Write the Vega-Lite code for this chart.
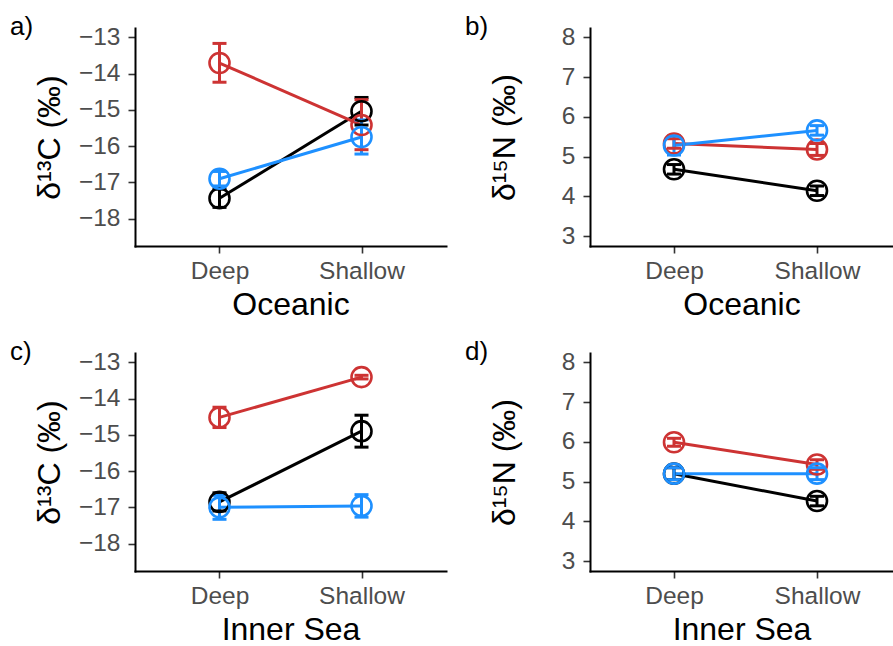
{
  "$schema": "https://vega.github.io/schema/vega-lite/v6.json",
  "padding": {"left": 10, "top": 14, "right": 0, "bottom": 0},
  "background": "white",
  "data": {"values": [
    {"panel": "a", "series": "s1", "depth": "Deep", "mean": -17.44, "lo": -17.69, "hi": -17.19},
    {"panel": "a", "series": "s1", "depth": "Shallow", "mean": -15.04, "lo": -15.42, "hi": -14.66},
    {"panel": "a", "series": "s2", "depth": "Deep", "mean": -13.71, "lo": -14.24, "hi": -13.17},
    {"panel": "a", "series": "s2", "depth": "Shallow", "mean": -15.42, "lo": -16.1, "hi": -14.72},
    {"panel": "a", "series": "s3", "depth": "Deep", "mean": -16.9, "lo": -17.1, "hi": -16.7},
    {"panel": "a", "series": "s3", "depth": "Shallow", "mean": -15.75, "lo": -16.22, "hi": -15.28},
    {"panel": "b", "series": "s1", "depth": "Deep", "mean": 4.68, "lo": 4.56, "hi": 4.8},
    {"panel": "b", "series": "s1", "depth": "Shallow", "mean": 4.14, "lo": 4.02, "hi": 4.26},
    {"panel": "b", "series": "s2", "depth": "Deep", "mean": 5.33, "lo": 5.21, "hi": 5.45},
    {"panel": "b", "series": "s2", "depth": "Shallow", "mean": 5.18, "lo": 5.03, "hi": 5.33},
    {"panel": "b", "series": "s3", "depth": "Deep", "mean": 5.28, "lo": 5.04, "hi": 5.52},
    {"panel": "b", "series": "s3", "depth": "Shallow", "mean": 5.66, "lo": 5.54, "hi": 5.78},
    {"panel": "c", "series": "s1", "depth": "Deep", "mean": -16.85, "lo": -17.1, "hi": -16.6},
    {"panel": "c", "series": "s1", "depth": "Shallow", "mean": -14.9, "lo": -15.34, "hi": -14.46},
    {"panel": "c", "series": "s2", "depth": "Deep", "mean": -14.52, "lo": -14.8, "hi": -14.24},
    {"panel": "c", "series": "s2", "depth": "Shallow", "mean": -13.41, "lo": -13.46, "hi": -13.36},
    {"panel": "c", "series": "s3", "depth": "Deep", "mean": -17.0, "lo": -17.33, "hi": -16.67},
    {"panel": "c", "series": "s3", "depth": "Shallow", "mean": -16.96, "lo": -17.27, "hi": -16.65},
    {"panel": "d", "series": "s1", "depth": "Deep", "mean": 5.2, "lo": 5.05, "hi": 5.35},
    {"panel": "d", "series": "s1", "depth": "Shallow", "mean": 4.51, "lo": 4.39, "hi": 4.63},
    {"panel": "d", "series": "s2", "depth": "Deep", "mean": 5.99, "lo": 5.89, "hi": 6.09},
    {"panel": "d", "series": "s2", "depth": "Shallow", "mean": 5.43, "lo": 5.31, "hi": 5.55},
    {"panel": "d", "series": "s3", "depth": "Deep", "mean": 5.2, "lo": 5.05, "hi": 5.35},
    {"panel": "d", "series": "s3", "depth": "Shallow", "mean": 5.2, "lo": 5.05, "hi": 5.35}
  ]},
  "columns": 2,
  "bounds": "flush",
  "spacing": {"row": 107, "column": 144},
  "concat": [
    {
      "width": 311, "height": 218,
      "title": {"text": "a)"},
      "transform": [{"filter": "datum.panel === 'a'"}],
      "encoding": {
        "x": {"field": "depth", "type": "nominal", "scale": {"type": "point", "padding": 0.595, "align": 0.5}, "axis": {"title": "Oceanic"}},
        "color": {"field": "series", "type": "nominal", "scale": {"domain": ["s1", "s2", "s3"], "range": ["#000000", "#CD3333", "#1E90FF"]}, "legend": null}
      },
      "layer": [
        {"mark": {"type": "line", "strokeWidth": 3}, "encoding": {"y": {"field": "mean", "type": "quantitative", "title": "δ¹³C (‰)", "scale": {"domain": [-18.755, -12.745], "nice": false, "zero": false}, "axis": {"values": [-18, -17, -16, -15, -14, -13]}}}},
        {"mark": {"type": "rule", "strokeWidth": 3}, "encoding": {"y": {"field": "lo", "type": "quantitative", "title": "δ¹³C (‰)"}, "y2": {"field": "hi"}}},
        {"mark": {"type": "tick", "size": 14, "thickness": 3, "opacity": 1}, "encoding": {"y": {"field": "lo", "type": "quantitative", "title": "δ¹³C (‰)"}}},
        {"mark": {"type": "tick", "size": 14, "thickness": 3, "opacity": 1}, "encoding": {"y": {"field": "hi", "type": "quantitative", "title": "δ¹³C (‰)"}}},
        {"mark": {"type": "point", "shape": "circle", "filled": false, "size": 400, "strokeWidth": 2.6, "opacity": 1}, "encoding": {"y": {"field": "mean", "type": "quantitative", "title": "δ¹³C (‰)"}}}
      ]
    },
    {
      "width": 303, "height": 218,
      "title": {"text": "b)"},
      "transform": [{"filter": "datum.panel === 'b'"}],
      "encoding": {
        "x": {"field": "depth", "type": "nominal", "scale": {"type": "point", "padding": 0.5594, "align": 0.525}, "axis": {"title": "Oceanic"}},
        "color": {"field": "series", "type": "nominal", "scale": {"domain": ["s1", "s2", "s3"], "range": ["#000000", "#CD3333", "#1E90FF"]}, "legend": null}
      },
      "layer": [
        {"mark": {"type": "line", "strokeWidth": 3}, "encoding": {"y": {"field": "mean", "type": "quantitative", "title": "δ¹⁵N (‰)", "scale": {"domain": [2.75, 8.237], "nice": false, "zero": false}, "axis": {"values": [3, 4, 5, 6, 7, 8]}}}},
        {"mark": {"type": "rule", "strokeWidth": 3}, "encoding": {"y": {"field": "lo", "type": "quantitative", "title": "δ¹⁵N (‰)"}, "y2": {"field": "hi"}}},
        {"mark": {"type": "tick", "size": 14, "thickness": 3, "opacity": 1}, "encoding": {"y": {"field": "lo", "type": "quantitative", "title": "δ¹⁵N (‰)"}}},
        {"mark": {"type": "tick", "size": 14, "thickness": 3, "opacity": 1}, "encoding": {"y": {"field": "hi", "type": "quantitative", "title": "δ¹⁵N (‰)"}}},
        {"mark": {"type": "point", "shape": "circle", "filled": false, "size": 400, "strokeWidth": 2.6, "opacity": 1}, "encoding": {"y": {"field": "mean", "type": "quantitative", "title": "δ¹⁵N (‰)"}}}
      ]
    },
    {
      "width": 311, "height": 218,
      "title": {"text": "c)"},
      "transform": [{"filter": "datum.panel === 'c'"}],
      "encoding": {
        "x": {"field": "depth", "type": "nominal", "scale": {"type": "point", "padding": 0.595, "align": 0.5}, "axis": {"title": "Inner Sea"}},
        "color": {"field": "series", "type": "nominal", "scale": {"domain": ["s1", "s2", "s3"], "range": ["#000000", "#CD3333", "#1E90FF"]}, "legend": null}
      },
      "layer": [
        {"mark": {"type": "line", "strokeWidth": 3}, "encoding": {"y": {"field": "mean", "type": "quantitative", "title": "δ¹³C (‰)", "scale": {"domain": [-18.755, -12.745], "nice": false, "zero": false}, "axis": {"values": [-18, -17, -16, -15, -14, -13]}}}},
        {"mark": {"type": "rule", "strokeWidth": 3}, "encoding": {"y": {"field": "lo", "type": "quantitative", "title": "δ¹³C (‰)"}, "y2": {"field": "hi"}}},
        {"mark": {"type": "tick", "size": 14, "thickness": 3, "opacity": 1}, "encoding": {"y": {"field": "lo", "type": "quantitative", "title": "δ¹³C (‰)"}}},
        {"mark": {"type": "tick", "size": 14, "thickness": 3, "opacity": 1}, "encoding": {"y": {"field": "hi", "type": "quantitative", "title": "δ¹³C (‰)"}}},
        {"mark": {"type": "point", "shape": "circle", "filled": false, "size": 400, "strokeWidth": 2.6, "opacity": 1}, "encoding": {"y": {"field": "mean", "type": "quantitative", "title": "δ¹³C (‰)"}}}
      ]
    },
    {
      "width": 303, "height": 218,
      "title": {"text": "d)"},
      "transform": [{"filter": "datum.panel === 'd'"}],
      "encoding": {
        "x": {"field": "depth", "type": "nominal", "scale": {"type": "point", "padding": 0.5594, "align": 0.525}, "axis": {"title": "Inner Sea"}},
        "color": {"field": "series", "type": "nominal", "scale": {"domain": ["s1", "s2", "s3"], "range": ["#000000", "#CD3333", "#1E90FF"]}, "legend": null}
      },
      "layer": [
        {"mark": {"type": "line", "strokeWidth": 3}, "encoding": {"y": {"field": "mean", "type": "quantitative", "title": "δ¹⁵N (‰)", "scale": {"domain": [2.75, 8.237], "nice": false, "zero": false}, "axis": {"values": [3, 4, 5, 6, 7, 8]}}}},
        {"mark": {"type": "rule", "strokeWidth": 3}, "encoding": {"y": {"field": "lo", "type": "quantitative", "title": "δ¹⁵N (‰)"}, "y2": {"field": "hi"}}},
        {"mark": {"type": "tick", "size": 14, "thickness": 3, "opacity": 1}, "encoding": {"y": {"field": "lo", "type": "quantitative", "title": "δ¹⁵N (‰)"}}},
        {"mark": {"type": "tick", "size": 14, "thickness": 3, "opacity": 1}, "encoding": {"y": {"field": "hi", "type": "quantitative", "title": "δ¹⁵N (‰)"}}},
        {"mark": {"type": "point", "shape": "circle", "filled": false, "size": 400, "strokeWidth": 2.6, "opacity": 1}, "encoding": {"y": {"field": "mean", "type": "quantitative", "title": "δ¹⁵N (‰)"}}}
      ]
    }
  ],
  "config": {
    "font": "Liberation Sans",
    "view": {"stroke": null},
    "title": {"anchor": "start", "frame": "group", "dx": -125, "dy": 20, "offset": 0, "fontSize": 26, "fontWeight": "normal", "color": "#000000", "baseline": "alphabetic"},
    "axis": {
      "grid": false,
      "domainColor": "#000000", "domainWidth": 2, "domainCap": "square",
      "tickColor": "#333333", "tickWidth": 1.6, "tickSize": 7,
      "labelColor": "#4D4D4D", "labelFontSize": 24.5, "labelFont": "Liberation Sans",
      "titleColor": "#000000", "titleFontSize": 32, "titleFont": "Liberation Sans", "titleFontWeight": "normal"
    },
    "axisY": {"labelPadding": 8, "titleX": -76, "titleY": 109, "titleBaseline": "alphabetic", "titleAlign": "center", "titleAngle": -90},
    "axisX": {"labelAngle": 0, "labelBaseline": "alphabetic", "labelPadding": 25, "titleY": 68, "titleBaseline": "alphabetic", "titleAlign": "center"}
  }
}
